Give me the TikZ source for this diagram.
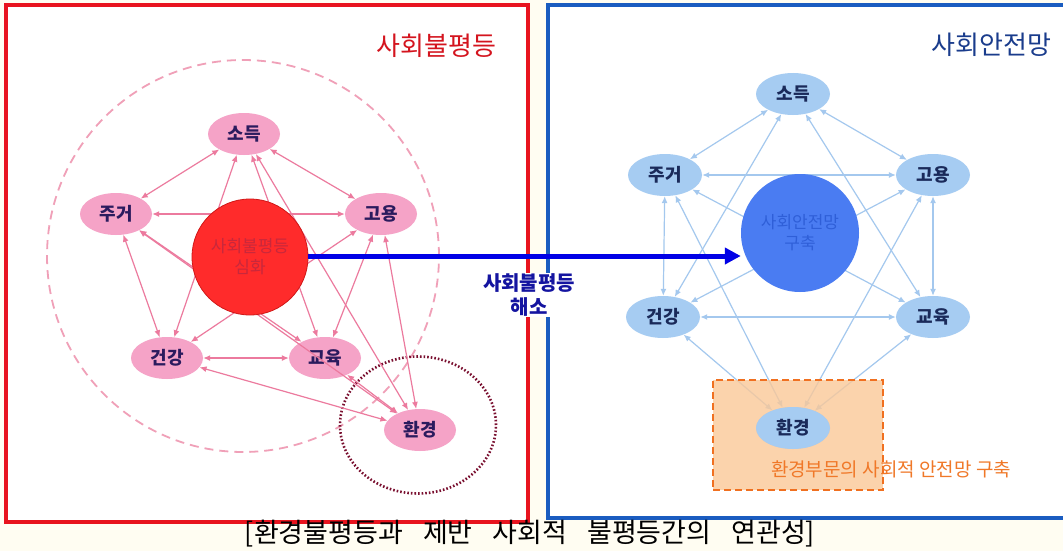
\documentclass[tikz,border=0pt]{standalone}
\usepackage{fontspec}
\setmainfont{Noto Sans CJK KR}
\usetikzlibrary{shapes.geometric,arrows.meta}
\definecolor{cream}{HTML}{FFFDF2}
\definecolor{boxred}{HTML}{E8141E}
\definecolor{boxblue}{HTML}{1A5CC0}
\definecolor{titlered}{HTML}{D4141E}
\definecolor{titleblue}{HTML}{1A3C8C}
\definecolor{edgered}{HTML}{EC7A9E}
\definecolor{pinkfill}{HTML}{F5A3C7}
\definecolor{navytext}{HTML}{2B1B5E}
\definecolor{redfill}{HTML}{FF2B2B}
\definecolor{redline}{HTML}{D01818}
\definecolor{redtext}{HTML}{C8283C}
\definecolor{edgeblue}{HTML}{A4C8EE}
\definecolor{bluefill}{HTML}{A6CCF2}
\definecolor{bluetext}{HTML}{1A2A5A}
\definecolor{bigblue}{HTML}{4A7CF2}
\definecolor{bigbluetext}{HTML}{2F5FD8}
\definecolor{arrowblue}{HTML}{0000E6}
\definecolor{labelblue}{HTML}{1414A0}
\definecolor{ringpink}{HTML}{F0A0B8}
\definecolor{ringmaroon}{HTML}{7A1030}
\definecolor{orangefill}{HTML}{FAC898}
\definecolor{orangeline}{HTML}{F07020}
\definecolor{orangetext}{HTML}{F07828}
\begin{document}
\begin{tikzpicture}[x=1pt,y=-1pt,
  tip/.style={{Latex[length=7pt,width=6pt]}-{Latex[length=7pt,width=6pt]}},
  redge/.style={draw=edgered, line width=1.2pt, tip},
  bedge/.style={draw=edgeblue, line width=1.2pt, tip},
  pnode/.style={ellipse, fill=pinkfill, minimum width=72pt, minimum height=42pt, inner sep=0pt, text=navytext, font=\bfseries\fontsize{18}{20}\selectfont},
  bnode/.style={ellipse, fill=bluefill, minimum width=74pt, minimum height=42pt, inner sep=0pt, text=bluetext, font=\bfseries\fontsize{18}{20}\selectfont},
]
\useasboundingbox (0,0) rectangle (1063,551);
\fill[cream] (0,0) rectangle (1063,551);
\fill[white] (6,5) rectangle (528,522);
\fill[white] (548,5) rectangle (1070,518);
\draw[boxred, line width=4pt] (6,5) rectangle (528,522);
\draw[boxblue, line width=4pt] (1070,5) -- (548,5) -- (548,518) -- (1070,518);

\node[anchor=east, text=titlered, font=\fontsize{26}{28}\selectfont] (tl) at (500,46) {사회불평등};
\node[anchor=east, text=titleblue, font=\fontsize{26}{28}\selectfont] (tr) at (1055,45) {사회안전망};

% ---------- left ----------
\node[circle, draw=ringpink, line width=1.8pt, dash pattern=on 9pt off 6pt, minimum size=392pt, inner sep=0pt] (dring) at (243,256) {};
\node[ellipse, draw=ringmaroon, line width=2.6pt, dash pattern=on 1.6pt off 2pt, minimum width=156pt, minimum height=137pt, inner sep=0pt] (envring) at (418,425) {};

\node[pnode] (so) at (244,134) {소득};
\node[pnode] (ju) at (116,214) {주거};
\node[pnode] (go) at (381,214) {고용};
\node[pnode] (ge) at (167,358) {건강};
\node[pnode] (gy) at (325,358) {교육};
\node[pnode] (hw) at (420,430) {환경};

\draw[redge] (so) -- (ju);
\draw[redge] (so) -- (go);
\draw[redge] (ju) -- (go);
\draw[redge] (ju) -- (ge);
\draw[redge] (go) -- (gy);
\draw[redge] (ge) -- (gy);
\draw[redge] (so) -- (ge);
\draw[redge] (so) -- (gy);
\draw[redge] (ju) -- (gy);
\draw[redge] (go) -- (ge);
\draw[redge] (so) -- (hw);
\draw[redge] (go) -- (hw);
\draw[redge] (ju) -- (hw);
\draw[redge] (ge) -- (hw);
\draw[redge] (gy) -- (hw);

\node[circle, fill=redfill, draw=redline, line width=0.8pt, minimum size=116pt, inner sep=0pt, text=redtext, align=center, font=\fontsize{17}{21}\selectfont] (cl) at (250,257) {사회불평등\\심화};

% ---------- right ----------
\node[bnode] (so2) at (793,94) {소득};
\node[bnode] (ju2) at (665,175) {주거};
\node[bnode] (go2) at (933,175) {고용};
\node[bnode] (ge2) at (663,317) {건강};
\node[bnode] (gy2) at (933,317) {교육};
\node[bnode] (hw2) at (793,428) {환경};

\draw[bedge] (so2) -- (ju2);
\draw[bedge] (so2) -- (go2);
\draw[bedge] (ju2) -- (go2);
\draw[bedge] (ju2) -- (ge2);
\draw[bedge] (go2) -- (gy2);
\draw[bedge] (ge2) -- (gy2);
\draw[bedge] (so2) -- (ge2);
\draw[bedge] (so2) -- (gy2);
\draw[bedge] (ju2) -- (gy2);
\draw[bedge] (go2) -- (ge2);
\draw[bedge] (ju2) -- (hw2);
\draw[bedge] (go2) -- (hw2);
\draw[bedge] (ge2) -- (hw2);
\draw[bedge] (gy2) -- (hw2);

\node[draw=orangeline, line width=2pt, dash pattern=on 7pt off 4pt, fill=orangefill, fill opacity=0.8, draw opacity=1, minimum width=170pt, minimum height=110pt, inner sep=0pt] (obox) at (798,435) {};
\node[bnode] at (793,428) {환경};
\node[text=orangetext, font=\fontsize{19}{21}\selectfont] (otext) at (891,469) {환경부문의 사회적 안전망 구축};

\node[circle, fill=bigblue, minimum size=118pt, inner sep=0pt, text=bigbluetext, align=center, font=\fontsize{17}{21}\selectfont] (cr) at (800,233) {사회안전망\\구축};

% ---------- big arrow ----------
\draw[arrowblue, line width=5pt, -{Triangle[length=16pt,width=16pt]}] (cl.east |- 0,256) -- (cr.west |- 0,256);
\node[fill=white, inner sep=1pt, text=labelblue, align=center, font=\bfseries\fontsize{20}{24}\selectfont] (lab) at (529,295) {사회불평등\\해소};

\node[text=black, font=\fontsize{27}{29}\selectfont] (cap) at (530,534) {[환경불평등과\hspace{20pt}제반\hspace{20pt}사회적\hspace{20pt}불평등간의\hspace{20pt}연관성]};
\end{tikzpicture}
\end{document}
